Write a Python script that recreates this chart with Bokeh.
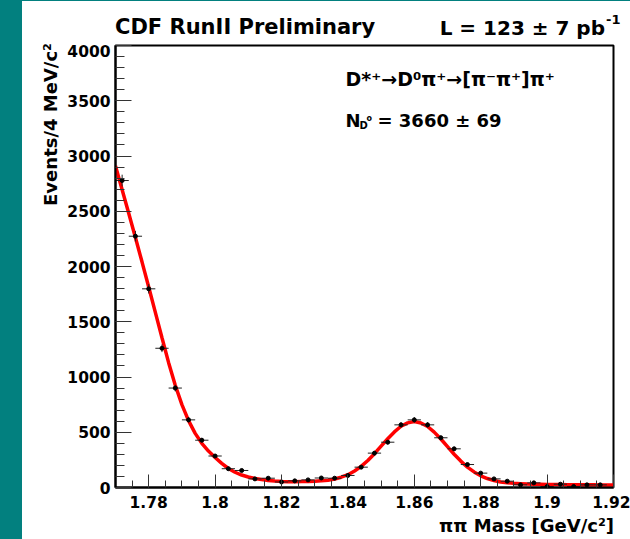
import math
from bokeh.plotting import figure
from bokeh.models import Label, FixedTicker, Spacer, Range1d, ColumnDataSource, Div
from bokeh.layouts import row, column
from bokeh.embed import file_html
from bokeh.resources import INLINE

# ---------------- data ----------------
mass = [1.772, 1.776, 1.780, 1.784, 1.788, 1.792, 1.796, 1.800, 1.804, 1.808,
        1.812, 1.816, 1.820, 1.824, 1.828, 1.832, 1.836, 1.840, 1.844, 1.848,
        1.852, 1.856, 1.860, 1.864, 1.868, 1.872, 1.876, 1.880, 1.884, 1.888,
        1.892, 1.896, 1.900, 1.904, 1.908, 1.912, 1.916]
counts = [2778, 2274, 1798, 1260, 900, 612, 428, 285, 170, 154,
          78, 84, 50, 60, 69, 86, 84, 109, 184, 311,
          410, 567, 612, 567, 450, 350, 208, 130, 78, 57,
          24, 42, 9, 30, 9, 24, 24]
errors = [53, 48, 42, 35, 30, 25, 21, 17, 13, 12,
          9, 9, 7, 8, 8, 9, 9, 10, 14, 18,
          20, 24, 25, 24, 21, 19, 14, 11, 9, 8,
          5, 6, 3, 5, 3, 5, 5]
bin_half_width = 0.002

fit_x = [1.770, 1.772, 1.774, 1.776, 1.778, 1.780, 1.782, 1.784, 1.786, 1.788,
         1.790, 1.792, 1.794, 1.796, 1.798, 1.800, 1.802, 1.804, 1.806, 1.808,
         1.810, 1.812, 1.814, 1.816, 1.818, 1.820, 1.822, 1.824, 1.826, 1.828,
         1.830, 1.832, 1.834, 1.836, 1.838, 1.840, 1.842, 1.844, 1.846, 1.848,
         1.850, 1.852, 1.854, 1.856, 1.858, 1.860, 1.862, 1.864, 1.866, 1.868,
         1.870, 1.872, 1.874, 1.876, 1.878, 1.880, 1.882, 1.884, 1.886, 1.888,
         1.890, 1.892, 1.894, 1.896, 1.898, 1.900, 1.902, 1.904, 1.906, 1.908,
         1.910, 1.912, 1.914, 1.916, 1.918, 1.920]
fit_y = [2910, 2695, 2480, 2262, 2040, 1815, 1585, 1355, 1130, 925,
         750, 605, 490, 400, 330, 272, 218, 172, 138, 113,
         95, 82, 72, 64, 58, 55, 53, 53, 54, 55,
         57, 60, 66, 77, 93, 116, 149, 191, 245, 306,
         374, 441, 503, 554, 585, 597, 584, 552, 501, 439,
         370, 301, 239, 184, 141, 106, 81, 63, 50, 43,
         38, 35, 31, 30, 29, 28, 27, 27, 26, 26,
         25, 24, 24, 23, 23, 22]

x_ticks = [1.78, 1.80, 1.82, 1.84, 1.86, 1.88, 1.90, 1.92]
x_tick_labels = ["1.78", "1.8", "1.82", "1.84", "1.86", "1.88", "1.9", "1.92"]
y_ticks = [0, 500, 1000, 1500, 2000, 2500, 3000, 3500, 4000]
y_tick_labels = ["0", "500", "1000", "1500", "2000", "2500", "3000", "3500", "4000"]

title_text = "CDF RunII Preliminary"
lumi_text = "L = 123 ± 7 pb"
lumi_sup = "-1"
decay_text = "D*⁺→D⁰π⁺→[π⁻π⁺]π⁺"
yield_text = "= 3660 ± 69"
y_title = "Events/4 MeV/c²"
x_title = "ππ Mass [GeV/c²]"

# ---------------- style ----------------
TEAL = "#02807f"
FONT = "DejaVu Sans"
ASC = 0.846  # baseline position inside a line box of line-height 1em

X0, X1, Y0, Y1 = 1.77, 1.92, 0, 4000
# page pixel geometry of the plot frame
FL, FR, FT, FB = 115, 613, 45, 487


def X(px):
    return X0 + (px - FL) * (X1 - X0) / (FR - FL)


def Y(py):
    return Y0 + (FB - py) * (Y1 - Y0) / (FB - FT)


def make_label(x, y, text, size, align="left", angle=0.0, style="bold"):
    return Label(x=x, y=y, text=text, text_font=FONT,
                 text_font_style=style, text_font_size=f"{size}px",
                 text_align=align, text_baseline="alphabetic",
                 text_color="black", angle=angle)


def span(text, size, left=None, right=None, baseline=0.0, extra=""):
    pos = f"left:{left}px;" if left is not None else f"right:{right}px;"
    top = baseline - ASC * size
    return (f'<span style="position:absolute;{pos}top:{top:.1f}px;font-size:{size}px;'
            f'line-height:{size}px;white-space:nowrap;{extra}">{text}</span>')


def box(w, h, inner):
    return Div(width=w, height=h, margin=0,
               text=(f'<div style="position:relative;width:{w}px;height:{h}px;overflow:visible;'
                     f"font-family:'{FONT}';font-weight:bold;color:black;\">{inner}</div>"))


# ---------------- main plot ----------------
p = figure(width=570, height=473, output_backend="svg", toolbar_location=None,
           x_range=Range1d(X0, X1), y_range=Range1d(Y0, Y1))
p.min_border_left = 55
p.min_border_right = 17
p.min_border_top = 1
p.min_border_bottom = 30
p.background_fill_color = "white"
p.border_fill_color = "white"
p.outline_line_color = "black"
p.outline_line_width = 2
p.xgrid.visible = False
p.ygrid.visible = False

x_minor = [round(1.77 + 0.005 * i, 3) for i in range(31)]
y_minor = [100 * i for i in range(41)]
p.xaxis.ticker = FixedTicker(ticks=x_ticks, minor_ticks=x_minor)
p.yaxis.ticker = FixedTicker(ticks=y_ticks, minor_ticks=y_minor)
p.xaxis.major_label_overrides = dict(zip(x_ticks, x_tick_labels))
p.yaxis.major_label_overrides = dict(zip(y_ticks, y_tick_labels))

for ax in (p.xaxis, p.yaxis):
    ax.axis_line_width = 2
    ax.axis_line_color = "black"
    ax.major_tick_out = 0
    ax.minor_tick_out = 0
    ax.major_tick_line_color = "#333333"
    ax.minor_tick_line_color = "#333333"
    ax.major_tick_line_width = 1
    ax.minor_tick_line_width = 1
    ax.major_label_text_font = FONT
    ax.major_label_text_font_style = "bold"
    ax.major_label_text_font_size = "15.5px"
    ax.major_label_text_color = "black"

p.xaxis.major_tick_in = 13
p.xaxis.minor_tick_in = 7
p.xaxis.major_label_standoff = 8
p.yaxis.major_tick_in = 16
p.yaxis.minor_tick_in = 9
p.yaxis.major_label_standoff = 5

# fit curve
p.line(fit_x, fit_y, line_color="#ff0000", line_width=3.5)

# data with error bars
src = ColumnDataSource(dict(
    x=mass, y=counts,
    xl=[m - bin_half_width for m in mass], xr=[m + bin_half_width for m in mass],
    yl=[c - e for c, e in zip(counts, errors)], yh=[c + e for c, e in zip(counts, errors)],
))
p.segment(x0="xl", y0="y", x1="xr", y1="y", source=src, line_color="#222222", line_width=1)
p.segment(x0="x", y0="yl", x1="x", y1="yh", source=src, line_color="#222222", line_width=1)
p.scatter(x="x", y="y", source=src, size=4, color="black")

p.add_layout(make_label(X(345), Y(78), decay_text, 19))
p.add_layout(make_label(X(345), Y(120), "N", 18))
p.add_layout(make_label(X(359), Y(125), "D", 10))
p.add_layout(make_label(X(366), Y(118), "o", 8))
p.add_layout(make_label(X(377), Y(120), yield_text, 18))

# ---------------- text blocks around the plot ----------------
# header: page x 60..630, page y 1..44
header = box(570, 43,
             span(title_text, 21, left=115 - 60, baseline=35 - 1)
             + span(lumi_text, 20, right=630 - 605, baseline=35 - 1)
             + span(lumi_sup, 13, left=606 - 60, baseline=24 - 1))

# y-axis title (rotated): page x 22..60, page y 1..539
YS = 18
yl_inner = (f'<span style="position:absolute;left:{57 - 22 - ASC * YS:.1f}px;top:{43 - 1 + 300}px;'
            f'width:300px;text-align:right;font-size:{YS}px;line-height:{YS}px;white-space:nowrap;'
            f'transform-origin:0 0;transform:rotate(-90deg);">{y_title}</span>')
ylab = box(38, 538, yl_inner)

# x-axis title: page x 60..630, page y 517..539
xlab = box(570, 22, span(x_title, 18, right=630 - 614, baseline=532 - 517))

top_line = Spacer(width=630, height=1, margin=0, styles={"background-color": TEAL})
strip = Spacer(width=22, height=538, margin=0, styles={"background-color": TEAL})
right_col = column(header, p, xlab, spacing=0)
layout = column(top_line, row(strip, ylab, right_col, spacing=0), spacing=0)

open("out.html", "w").write(file_html(layout, INLINE))
